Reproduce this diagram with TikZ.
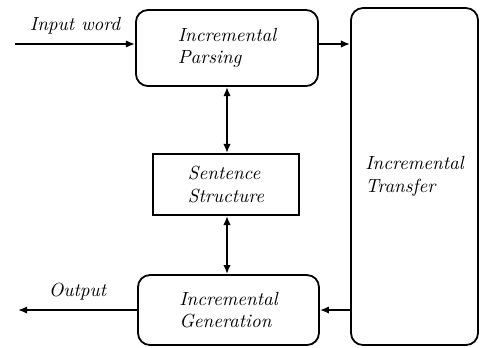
\documentclass[tikz,border=0pt]{standalone}
\usepackage{tikz}
\usetikzlibrary{arrows.meta,positioning}

\begin{document}
\begin{tikzpicture}[
  font=\fontsize{9.5}{11.2}\selectfont\itshape,
  box/.style={draw, line width=0.9pt, rounded corners=6pt, align=left, inner sep=0pt},
  sbox/.style={box, rounded corners=0pt},
  arr/.style={-{Latex[length=1.6mm,width=1.3mm]}, line width=0.9pt},
  darr/.style={{Latex[length=1.6mm,width=1.3mm]}-{Latex[length=1.6mm,width=1.3mm]}, line width=0.9pt}
]
\useasboundingbox (0,0) rectangle (8.435,6.098);
% Boxes
\node[box, minimum width=3.2cm, minimum height=1.336cm] (parse) at (3.989,5.254) {Incremental\\Parsing};
\node[sbox, minimum width=2.566cm, minimum height=1.072cm] (sent) at (3.972,2.856) {Sentence\\Structure};
\node[box, minimum width=3.18cm, minimum height=1.23cm] (gen) at (4.015,0.650) {Incremental\\Generation};
\node[box, minimum width=2.232cm, minimum height=5.922cm] (trans) at (7.284,2.996) {Incremental\\Transfer};
% Input and output ends
\coordinate (in) at (0.264,5.325);
\coordinate (out) at (0.316,0.650);
% Connectors
\draw[arr] (in) -- node[above=1pt] {Input word} (parse.west |- in);
\draw[arr] (parse.east |- in) -- (trans.west |- in);
\draw[darr] (parse.south) -- (sent.north -| parse.south);
\draw[darr] (sent.south -| parse.south) -- (gen.north -| parse.south);
\draw[arr] (trans.west |- gen.east) -- (gen.east);
\draw[arr] (gen.west) -- node[above=1pt] {Output} (out);
\end{tikzpicture}
\end{document}
